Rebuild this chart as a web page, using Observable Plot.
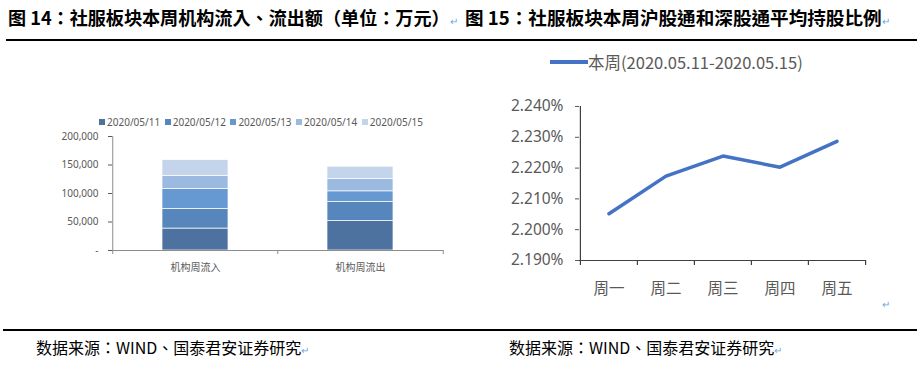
<!DOCTYPE html>
<html><head><meta charset="utf-8">
<script src="https://cdn.jsdelivr.net/npm/d3@7"></script>
<script src="https://cdn.jsdelivr.net/npm/@observablehq/plot@0.6"></script>
<style>
body{margin:0;background:#fff;}
#root{position:relative;width:922px;height:370px;overflow:hidden;font-family:"Noto Sans CJK SC","Noto Sans",sans-serif;}
.abs{position:absolute;white-space:nowrap;}
.title{font-weight:bold;font-size:18.6px;color:#000;top:4px;line-height:26px;font-family:"Noto Sans CJK TC","Noto Sans CJK SC",sans-serif;}
.hr{position:absolute;background:#000;height:2px;}
.foot{font-size:16px;color:#000;top:335px;line-height:24px;font-family:"Noto Sans CJK TC","Noto Sans CJK SC",sans-serif;}
.ret{color:#6fa8dc;font-size:10px;font-weight:normal;}
#legL{top:115px;left:99px;display:flex;font-size:10px;color:#595959;font-family:"Noto Sans","Noto Sans CJK SC",sans-serif;line-height:14px;}
#legL .it{width:65.7px;display:flex;align-items:center;}
#legL .sw{width:6px;height:6px;margin-right:2px;}
#legR{top:50px;left:550px;display:flex;align-items:center;font-size:16.5px;color:#595959;line-height:24px;}
#legR .ln{width:38px;height:4px;background:#4472c4;}
</style></head><body><div id="root">
<div class="abs title" style="left:8px;font-size:18.1px">图 14：社服板块本周机构流入、流出额（单位：万元）<span class="ret">↵</span></div>
<div class="abs title" style="left:465px">图 15：社服板块本周沪股通和深股通平均持股比例<span class="ret">↵</span></div>
<div class="hr" style="left:6px;width:911px;top:39px"></div>
<div class="hr" style="left:3px;width:914px;top:329px"></div>
<div class="abs foot" style="left:36px">数据来源：WIND、国泰君安证券研究<span class="ret">↵</span></div>
<div class="abs foot" style="left:509px">数据来源：WIND、国泰君安证券研究<span class="ret">↵</span></div>
<div class="abs ret" style="left:882px;top:296px">↵</div>
<div class="abs" id="legL"></div>
<div class="abs" id="legR"><div class="ln"></div><span>本周(2020.05.11-2020.05.15)</span></div>
<div class="abs" id="chartL" style="left:0;top:130px"></div>
<div class="abs" id="chartR" style="left:490px;top:95px"></div>
</div>
<script>
// ---- Figure 14 data (万元) ----
const flowCategories = ["机构周流入", "机构周流出"];
const flowDates = ["2020/05/11", "2020/05/12", "2020/05/13", "2020/05/14", "2020/05/15"];
const inflowValues = [38500, 34400, 35000, 22700, 28000];
const outflowValues = [51900, 33200, 18700, 21600, 21600];
const flowColors = ["#4e72a0", "#5686bb", "#6699d1", "#9cb9df", "#c4d4eb"];
const flowTicks = [0, 50000, 100000, 150000, 200000];

// ---- Figure 15 data (%) ----
const weekdays = ["周一", "周二", "周三", "周四", "周五"];
const holdPct = [2.2052, 2.2174, 2.2239, 2.2203, 2.2287];
const pctTicks = [2.19, 2.20, 2.21, 2.22, 2.23, 2.24];

// legend (left)
const legL = document.getElementById("legL");
flowDates.forEach((d, i) => {
  const it = document.createElement("div"); it.className = "it";
  const sw = document.createElement("div"); sw.className = "sw"; sw.style.background = flowColors[i];
  const t = document.createElement("span"); t.textContent = d;
  it.appendChild(sw); it.appendChild(t); legL.appendChild(it);
});

// ---- left chart ----
const flowData = [];
flowDates.forEach((d, i) => {
  flowData.push({cat: flowCategories[0], date: d, value: inflowValues[i]});
  flowData.push({cat: flowCategories[1], date: d, value: outflowValues[i]});
});
const LW = 460, LH = 150, LML = 112, LMR = 17;
const stepL = (LW - LML - LMR) / flowCategories.length;
const axisGrey = "#8c8c8c";
const left = Plot.plot({
  width: LW, height: LH, marginLeft: LML, marginRight: LMR, marginTop: 6, marginBottom: 30,
  style: {fontFamily: '"Noto Sans","Noto Sans CJK SC",sans-serif', fontSize: "10px", color: "#595959", background: "transparent"},
  x: {type: "band", domain: flowCategories, paddingInner: 0.6, paddingOuter: 0.3, tickSize: 0, tickPadding: 13, label: null},
  y: {domain: [0, 200000], ticks: flowTicks, tickSize: 4, tickPadding: 10, label: null,
      tickFormat: d => d === 0 ? "-" : d3.format(",")(d)},
  color: {domain: flowDates, range: flowColors},
  marks: [
    Plot.barY(flowData, {x: "cat", y: "value", fill: "date", stroke: "white", strokeWidth: 0.7}),
    Plot.ruleY([0], {stroke: axisGrey}),
    Plot.ruleX([flowCategories[0]], {x: d => d, dx: -stepL / 2, y1: 0, y2: 200000, stroke: axisGrey}),
    Plot.ruleX(flowCategories, {x: d => d, dx: -stepL / 2, y1: 0, y2: 0, insetTop: 4, stroke: axisGrey}),
    Plot.ruleX([flowCategories[flowCategories.length - 1]], {x: d => d, dx: stepL / 2, y1: 0, y2: 0, insetTop: 4, stroke: axisGrey})
  ]
});
document.getElementById("chartL").appendChild(left);

// ---- right chart ----
const RW = 420, RH = 210, RML = 89, RMR = 45;
const stepR = (RW - RML - RMR) / weekdays.length;
const pctData = weekdays.map((d, i) => ({day: d, v: holdPct[i]}));
const axisDark = "#404040";
const right = Plot.plot({
  width: RW, height: RH, marginLeft: RML, marginRight: RMR, marginTop: 11, marginBottom: 45,
  style: {fontFamily: '"Noto Sans","Noto Sans CJK SC",sans-serif', fontSize: "15.5px", color: "#595959", background: "transparent"},
  x: {type: "band", domain: weekdays, padding: 0, tickSize: 0, tickPadding: 22, label: null},
  y: {domain: [2.19, 2.24], ticks: pctTicks, tickSize: 4, tickPadding: 12, label: null,
      tickFormat: d => d.toFixed(3) + "%"},
  marks: [
    Plot.ruleY([2.19], {stroke: axisDark, strokeWidth: 1.2}),
    Plot.ruleX([weekdays[0]], {x: d => d, dx: -stepR / 2, y1: 2.19, y2: 2.24, stroke: axisDark, strokeWidth: 1.2}),
    Plot.ruleX(weekdays, {x: d => d, dx: -stepR / 2, y1: 2.19, y2: 2.19, insetTop: 5, stroke: axisDark, strokeWidth: 1.2}),
    Plot.ruleX([weekdays[weekdays.length - 1]], {x: d => d, dx: stepR / 2, y1: 2.19, y2: 2.19, insetTop: 5, stroke: axisDark, strokeWidth: 1.2}),
    Plot.line(pctData, {x: "day", y: "v", stroke: "#4472c4", strokeWidth: 3.5, strokeLinejoin: "round"})
  ]
});
document.getElementById("chartR").appendChild(right);
</script>
</body></html>
